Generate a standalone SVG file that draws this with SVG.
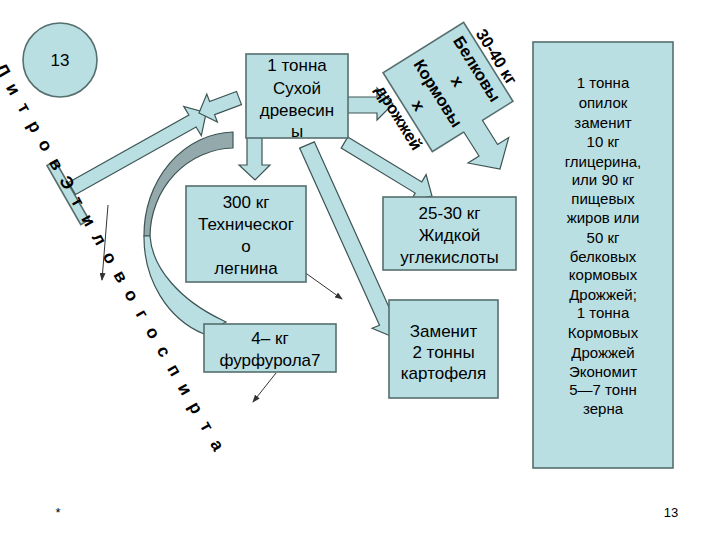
<svg xmlns="http://www.w3.org/2000/svg" width="720" height="540" viewBox="0 0 720 540">
<defs>
<style>
.box{fill:#b9dfe3;stroke:#566e6e;stroke-width:1.6}
.ar{fill:#b9dfe3;stroke:#3e5454;stroke-width:1.2;stroke-linejoin:miter}
.fo{fill:#b9dfe3;stroke:none}
.ol{fill:none;stroke:#3e5454;stroke-width:1.2}
.t{font-family:"Liberation Sans",Arial,sans-serif;fill:#000;text-anchor:middle}
.t17{font-size:17px}
.t15{font-size:15px}
.thin{stroke:#333;stroke-width:1;fill:none;marker-end:url(#ah)}
</style>
<marker id="ah" markerWidth="8" markerHeight="6" refX="7" refY="3" orient="auto" markerUnits="userSpaceOnUse">
<path d="M0,0 L8,3 L0,6 z" fill="#333"/>
</marker>
</defs>
<rect width="720" height="540" fill="#fff"/>

<g id="circle13">
<circle cx="60" cy="60" r="37" class="box"/>
<text class="t t17" x="60" y="66">13</text>
</g>

<g id="connectors">
<rect transform="rotate(60.2)" x="167" y="32" width="68" height="9.5" class="box"/>
<polygon class="ar" points="68.4,182.5 188.9,115 183.7,106.4 206.2,112.7 201.3,135.6 196.1,127 75.6,194.5"/>
<polygon class="ar" points="241.5,104.6 236.5,91.4 209.6,101.5 206.8,94.1 199,113 217.4,122.1 214.6,114.7"/>
<path d="M233,132 A91,103 0 0 0 144,236 L150,236 A85,89 0 0 1 233,148 Z" fill="#93a9ab" stroke="#3e5454" stroke-width="1.2"/>
<path d="M144,236 A91,103 0 0 0 204,334 L226,322 L222,320 C180,300 152,268 150,236 Z" class="ar"/>
<polygon class="ar" points="247,132 262,132 262,165 270,165 255,180 239,165 247,165"/>
<polygon class="ar" points="346,97 377,97 377,88 393,104 377,120 377,113 346,113"/>
<polygon class="ar" points="347.8,136.9 421.8,181.9 426.1,174.6 432,196 410.9,200.4 415.2,193.1 341.2,148.1"/>
<polygon class="ar" points="314.4,141.9 394.3,319.1 401.7,316.1 393,337 372.1,328.3 379.5,325.3 299.6,148.1"/>
<line class="thin" x1="108" y1="205" x2="102" y2="280"/>
<line class="thin" x1="300" y1="269" x2="342" y2="299"/>
<line class="thin" x1="276" y1="373" x2="253" y2="402"/>
</g>

<g id="wood">
<rect x="246" y="54" width="102" height="84" class="box"/>
<text class="t t17" x="297" y="71">1 тонна</text>
<text class="t t17" x="297" y="94">Сухой</text>
<text class="t t17" x="297" y="116">древесин</text>
<text class="t t17" x="297" y="137">ы</text>
</g>

<g id="lignin">
<rect x="186" y="186" width="120" height="96" class="box"/>
<text class="t t17" x="246" y="208">300 кг</text>
<text class="t t17" x="246" y="230">Техническог</text>
<text class="t t17" x="246" y="252">о</text>
<text class="t t17" x="246" y="274">легнина</text>
</g>

<g id="furfurol">
<rect x="204" y="324" width="132" height="48" class="box"/>
<text class="t t17" x="270" y="344">4– кг</text>
<text class="t t17" x="270" y="366">фурфурола7</text>
</g>

<g id="co2">
<rect x="383" y="197" width="133" height="73" class="box"/>
<text class="t t17" x="449.5" y="219">25-30 кг</text>
<text class="t t17" x="449.5" y="241">Жидкой</text>
<text class="t t17" x="449.5" y="263">углекислоты</text>
</g>

<g id="potato">
<rect x="389" y="300" width="109" height="98" class="box"/>
<text class="t t17" x="443.5" y="337">Заменит</text>
<text class="t t17" x="443.5" y="358">2 тонны</text>
<text class="t t17" x="443.5" y="379">картофеля</text>
</g>

<g id="sawdust">
<rect x="533" y="42" width="140" height="426" class="box"/>
<g class="t t15">
<text x="603" y="88">1 тонна</text>
<text x="603" y="108">опилок</text>
<text x="603" y="128">заменит</text>
<text x="603" y="147">10 кг</text>
<text x="603" y="167">глицерина,</text>
<text x="603" y="185">или 90 кг</text>
<text x="603" y="204">пищевых</text>
<text x="603" y="223">жиров или</text>
<text x="603" y="243">50 кг</text>
<text x="603" y="262">белковых</text>
<text x="603" y="280">кормовых</text>
<text x="603" y="300">Дрожжей;</text>
<text x="603" y="318">1 тонна</text>
<text x="603" y="338">Кормовых</text>
<text x="603" y="358">Дрожжей</text>
<text x="603" y="377">Экономит</text>
<text x="603" y="395">5—7 тонн</text>
<text x="603" y="414">зерна</text>
</g>
</g>

<g id="yeast">
<rect transform="translate(448,87) rotate(58)" x="-46.5" y="-47.5" width="93" height="95" class="box"/>
<polygon class="fo" points="457.7,122.2 476.3,110.6 497.6,144.5 508.7,137.6 500,169 468,163 479,156"/>
<polyline class="ol" points="463.6,131.7 479,156 468,163 500,169 508.7,137.6 497.6,144.5 482.2,120"/>
<g transform="translate(448,87) rotate(58)" class="t" font-size="16.5" font-weight="bold">
<text x="0" y="-51.5">30-40 кг</text>
<text x="0" y="-28.5">Белковы</text>
<text x="0" y="-5.5">х</text>
<text x="0" y="17.5">Кормовы</text>
<text x="0" y="40.5">х</text>
<text x="0" y="63.5">дрожжей</text>
</g>
</g>

<g id="ethanol">
<text transform="rotate(60.2)" class="t" font-size="17.5" font-weight="bold" y="38.5" x="62.3 83.9 105.5 127.1 148.7 170.3 191.9 213.5 235.1 256.7 278.3 299.9 321.5 343.1 364.7 386.3 407.9 429.5 451.1 472.7 494.3">ЛитровЭтиловогоспирта</text>
</g>

<g id="footer">
<text x="58" y="517" font-family="Liberation Sans,Arial,sans-serif" font-size="13" text-anchor="middle">*</text>
<text x="671" y="517" font-family="Liberation Sans,Arial,sans-serif" font-size="13" text-anchor="middle">13</text>
</g>
</svg>
